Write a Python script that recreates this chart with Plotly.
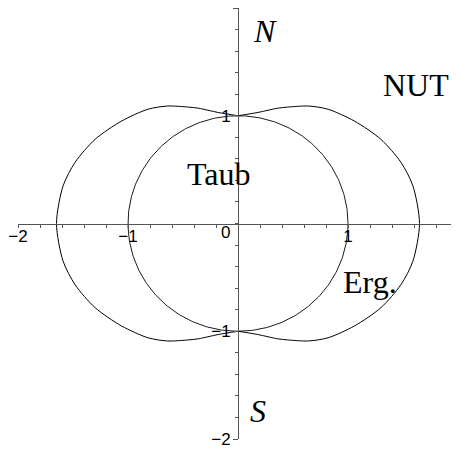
import numpy as np
import plotly.graph_objects as go

# ---- data ----
# outer (ergo) surface, polar: angle from the north axis (deg) and radius, first quadrant
erg_angle_deg = [0, 9.9, 18.6, 22.6, 30.4, 37.7, 48.1, 59.0, 69.0, 77.6, 90.0]
erg_radius = [1.0, 1.046, 1.129, 1.17, 1.264, 1.34, 1.423, 1.516, 1.586, 1.628, 1.65]
# inner (Taub) horizon: unit circle
circle_radius = 1.0

x_tick_vals = [-2, -1, 1, 2]
x_tick_text = ["\u22122", "\u22121", "1", "2"]
y_tick_vals = [-2, -1, 1, 2]
y_tick_text = ["\u22122", "\u22121", "1", "2"]

labels = ["N", "S", "NUT", "Taub", "Erg."]
label_x = [0.245, 0.18, 1.62, -0.177, 1.2]
label_y = [1.79, -1.74, 1.29, 0.455, -0.54]
label_italic = [True, True, False, False, False]

# ---- build curves ----
ang = np.radians(erg_angle_deg)
r = np.array(erg_radius)
# right half: from north (0) through east (90) to south (180)
ang_right = np.concatenate([ang, np.pi - ang[::-1][1:]])
r_right = np.concatenate([r, r[::-1][1:]])
xr = r_right * np.sin(ang_right)
yr = r_right * np.cos(ang_right)

t = np.linspace(0, 2 * np.pi, 361)
xc = circle_radius * np.cos(t)
yc = circle_radius * np.sin(t)

fig = go.Figure()
line_style = dict(color="black", width=1)
fig.add_trace(go.Scatter(x=xr, y=yr, mode="lines", line=dict(shape="spline", smoothing=0.8, **line_style),
                         hoverinfo="skip"))
fig.add_trace(go.Scatter(x=-xr, y=yr, mode="lines", line=dict(shape="spline", smoothing=0.8, **line_style),
                         hoverinfo="skip"))
fig.add_trace(go.Scatter(x=xc, y=yc, mode="lines", line=dict(color="black", width=0.9), hoverinfo="skip"))

axis_color = "#555555"
common = dict(
    showgrid=False, zeroline=False, showline=True, linecolor=axis_color, linewidth=1,
    ticks="outside", tickwidth=1, tickcolor=axis_color,
    tickfont=dict(family="Liberation Sans, Arial, sans-serif", size=17, color="black"),
    anchor="free", position=0.5,
    minor=dict(tickmode="linear", tick0=0, dtick=0.2, ticks="outside", ticklen=3,
               tickwidth=1, tickcolor=axis_color, showgrid=False),
)
fig.update_xaxes(range=[-2, 2], tickmode="array", tickvals=x_tick_vals, ticktext=x_tick_text,
                 ticklen=3, ticklabelstandoff=-6, **common)
fig.update_yaxes(range=[-2, 2], tickmode="array", tickvals=y_tick_vals, ticktext=y_tick_text,
                 ticklen=5, ticklabelstandoff=-1, **common)

for txt, lx, ly, it in zip(labels, label_x, label_y, label_italic):
    fig.add_annotation(x=lx, y=ly, text=f"<i>{txt}</i>" if it else txt, showarrow=False,
                       xanchor="center", yanchor="middle",
                       font=dict(family="Liberation Serif, Times New Roman, serif", size=32, color="black"))
fig.add_annotation(x=-0.11, y=-0.08, text="0", showarrow=False, xanchor="center", yanchor="middle",
                   font=dict(family="Liberation Sans, Arial, sans-serif", size=17, color="black"))

fig.update_layout(
    width=451, height=448, showlegend=False,
    margin=dict(l=10, r=1, t=0, b=17),
    paper_bgcolor="white", plot_bgcolor="white",
)
fig.write_html("out.html")
